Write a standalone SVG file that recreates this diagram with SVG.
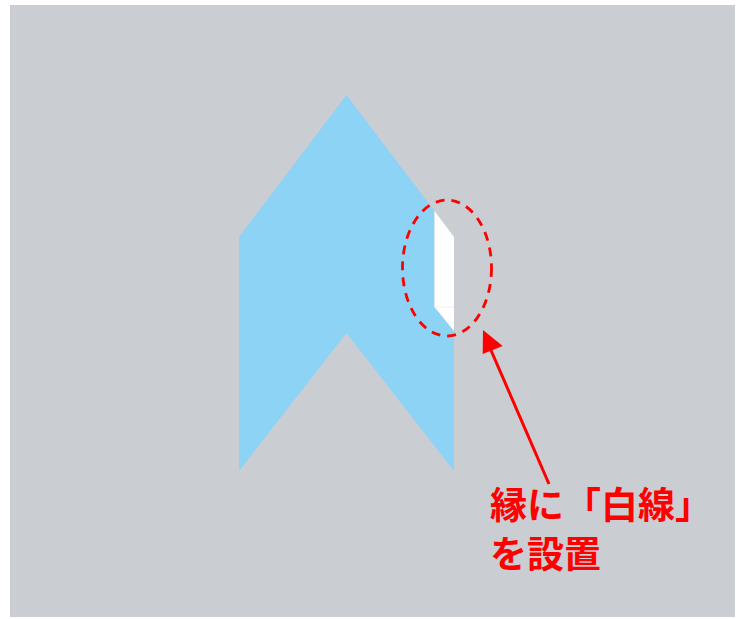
<svg xmlns="http://www.w3.org/2000/svg" width="739" height="619" viewBox="0 0 739 619">
  <defs>
    <style>
      .bg { fill: #CACDD2; }
      .mark { fill: #8DD3F5; }
      .whiteline { fill: #FFFFFF; }
      .red { stroke: #FF0000; fill: none; }
      .label { fill: #FF0000; font-family: "Noto Sans CJK JP", "Noto Sans", sans-serif; font-size: 37px; font-weight: bold; }
    </style>
  </defs>
  <rect class="bg" x="10" y="5" width="725" height="612"/>
  <g id="arrow-mark">
    <polygon class="mark" points="346.5,95 434.5,211 434.5,307 454,331 454,471 346.5,333 239,471 239,237"/>
    <polygon class="whiteline" points="434.5,211 454,237 454,331 434.5,307"/>
    <line x1="434.5" y1="307" x2="454" y2="307" stroke="#E6F4FB" stroke-width="1"/>
  </g>
  <g id="highlight">
    <ellipse class="red" cx="447" cy="268" rx="44.5" ry="68" stroke-width="2.8" stroke-dasharray="9,7"/>
  </g>
  <g id="connectors">
    <line class="red" x1="549" y1="484" x2="490" y2="348" stroke-width="3"/>
    <polygon points="483,330 482.7,354 502.7,346" fill="#FF0000"/>
  </g>
  <g id="note">
    <text class="label" x="490" y="519">縁に「白線」</text>
    <text class="label" x="490" y="568">を設置</text>
  </g>
</svg>
